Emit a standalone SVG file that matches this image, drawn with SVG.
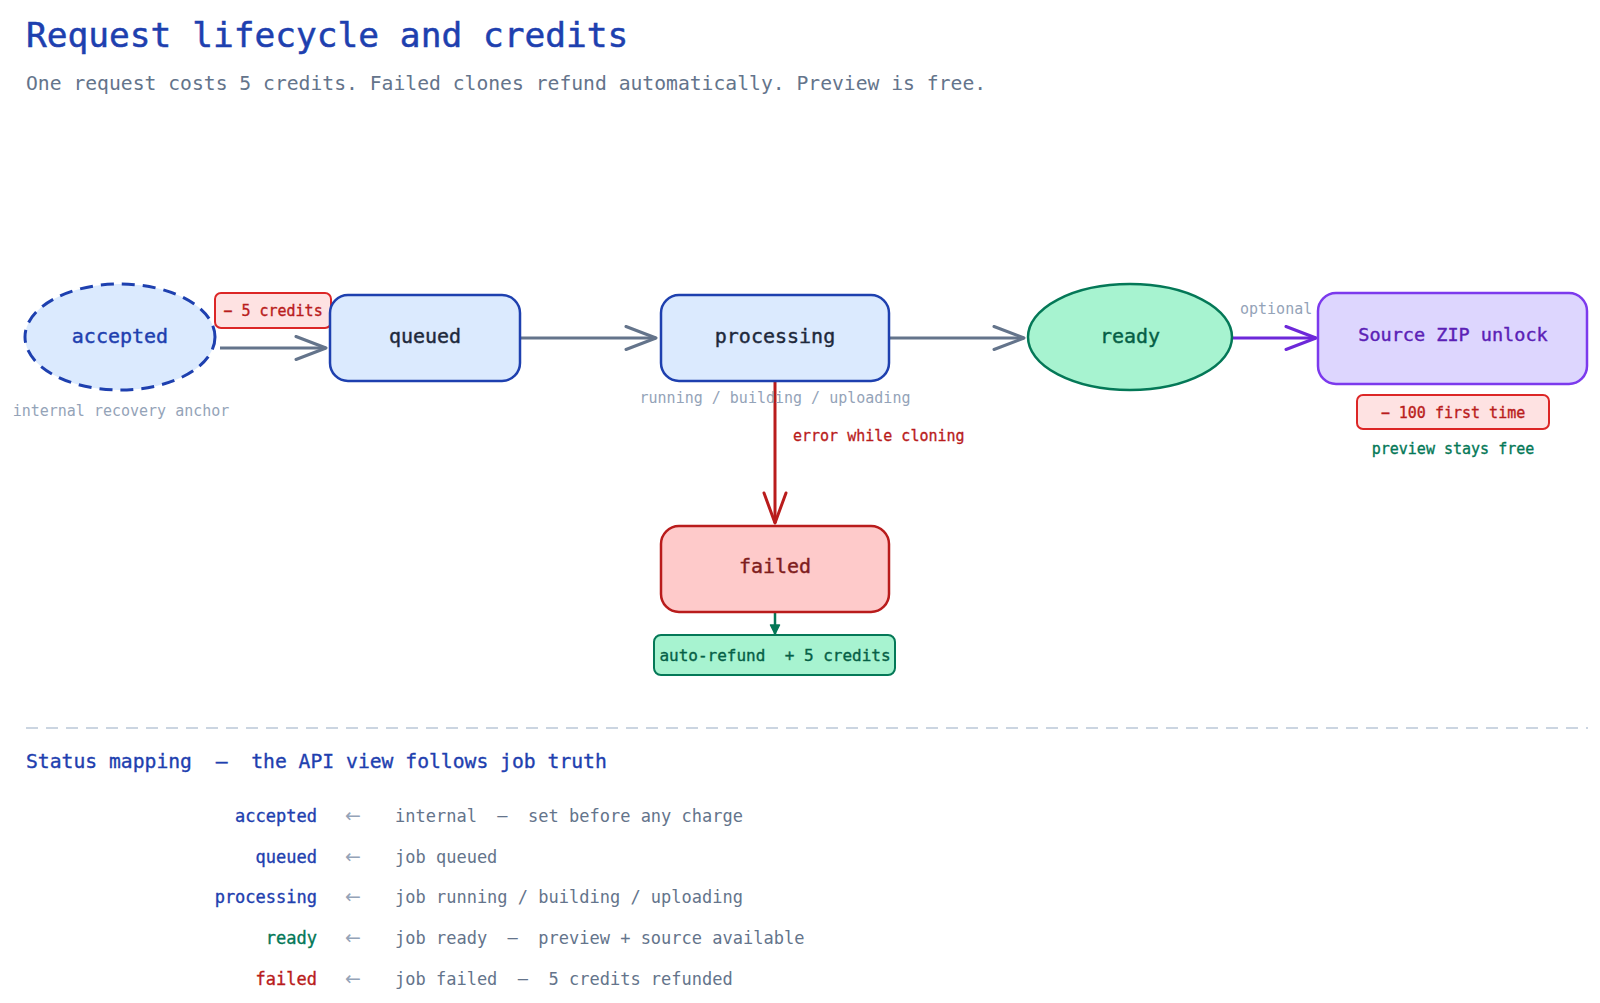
<svg xmlns="http://www.w3.org/2000/svg" width="1600" height="1003" viewBox="0 0 1600 1003">
<style>
text{font-family:"DejaVu Sans Mono","Liberation Mono",monospace;white-space:pre;}
.title{font-size:34.5px;fill:#1e40af;stroke:#1e40af;stroke-width:0.5px;}
.sub{font-size:19.7px;fill:#64748b;}
.lbl{font-size:20px;text-anchor:middle;stroke-width:0.4px;}
.note{font-size:15px;fill:#94a3b8;}
.badge{font-size:15px;text-anchor:middle;stroke-width:0.35px;}
.mapk{font-size:17px;text-anchor:end;stroke-width:0.35px;}
.mapa{font-size:19px;fill:#94a3b8;text-anchor:middle;font-family:"DejaVu Sans",sans-serif;}
.mapv{font-size:17px;fill:#64748b;}
.box{stroke-width:2.5;}
</style>
<defs>
<marker id="arrGray" markerUnits="userSpaceOnUse" markerWidth="36" markerHeight="28" refX="32" refY="13" orient="auto" viewBox="0 0 36 28">
<path d="M2,1.5 L32,13 L2,24.5" fill="none" stroke="#64748b" stroke-width="3" stroke-linecap="round" stroke-linejoin="round"/>
</marker>
<marker id="arrRed" markerUnits="userSpaceOnUse" markerWidth="36" markerHeight="28" refX="32" refY="13" orient="auto" viewBox="0 0 36 28">
<path d="M2,2 L32,13 L2,24" fill="none" stroke="#b91c1c" stroke-width="3" stroke-linecap="round" stroke-linejoin="round"/>
</marker>
<marker id="arrPurple" markerUnits="userSpaceOnUse" markerWidth="36" markerHeight="28" refX="32" refY="13" orient="auto" viewBox="0 0 36 28">
<path d="M2,1.5 L32,13 L2,24.5" fill="none" stroke="#6d28d9" stroke-width="3" stroke-linecap="round" stroke-linejoin="round"/>
</marker>
<marker id="arrGreen" markerUnits="userSpaceOnUse" markerWidth="12" markerHeight="12" refX="10" refY="6" orient="auto" viewBox="0 0 12 12">
<path d="M1,1.5 L10,6 L1,10.5 Z" fill="#047857" stroke="#047857" stroke-width="1.5" stroke-linejoin="round"/>
</marker>
</defs>
<rect width="1600" height="1003" fill="#ffffff"/>
<text class="title" x="26" y="47">Request lifecycle and credits</text>
<text class="sub" x="26" y="90">One request costs 5 credits. Failed clones refund automatically. Preview is free.</text>

<g id="connectors">
<line x1="220" y1="348" x2="326" y2="348" stroke="#64748b" stroke-width="3" marker-end="url(#arrGray)"/>
<line x1="521" y1="338" x2="656" y2="338" stroke="#64748b" stroke-width="3" marker-end="url(#arrGray)"/>
<line x1="889" y1="338" x2="1024" y2="338" stroke="#64748b" stroke-width="3" marker-end="url(#arrGray)"/>
<line x1="1232" y1="338" x2="1316" y2="338" stroke="#6d28d9" stroke-width="3" marker-end="url(#arrPurple)"/>
<line x1="775" y1="382" x2="775" y2="523" stroke="#b91c1c" stroke-width="3" marker-end="url(#arrRed)"/>
<line x1="775" y1="612" x2="775" y2="634" stroke="#047857" stroke-width="2.5" marker-end="url(#arrGreen)"/>
<text class="note" x="1240" y="314">optional</text>
<text x="793" y="441" style="font-size:15px;fill:#b91c1c;stroke:#b91c1c;stroke-width:0.3px">error while cloning</text>
</g>

<g id="node-accepted">
<ellipse cx="120" cy="337" rx="95" ry="53" fill="#dbeafe" stroke="#1e40af" stroke-width="3" stroke-dasharray="13 8"/>
<text class="lbl" x="120" y="343" fill="#1e40af" stroke="#1e40af">accepted</text>
<text class="note" x="121" y="416" text-anchor="middle">internal recovery anchor</text>
</g>
<g id="badge-minus5">
<rect x="215" y="293" width="116" height="35" rx="6" fill="#fee2e2" stroke="#dc2626" stroke-width="2"/>
<text class="badge" x="273" y="316" fill="#b91c1c" stroke="#b91c1c">− 5 credits</text>
</g>

<g id="node-queued">
<rect class="box" x="330" y="295" width="190" height="86" rx="18" fill="#dbeafe" stroke="#1e40af"/>
<text class="lbl" x="425" y="343" fill="#1e293b" stroke="#1e293b">queued</text>
</g>

<g id="node-processing">
<rect class="box" x="661" y="295" width="228" height="86" rx="18" fill="#dbeafe" stroke="#1e40af"/>
<text class="lbl" x="775" y="343" fill="#1e293b" stroke="#1e293b">processing</text>
<text class="note" x="775" y="403" text-anchor="middle">running / building / uploading</text>
</g>

<g id="node-ready">
<ellipse cx="1130" cy="337" rx="102" ry="53" fill="#a7f3d0" stroke="#047857" stroke-width="2.5"/>
<text class="lbl" x="1130" y="343" fill="#065f46" stroke="#065f46">ready</text>
</g>

<g id="node-zip">
<rect class="box" x="1318" y="293" width="269" height="91" rx="18" fill="#ddd6fe" stroke="#7c3aed"/>
<text class="lbl" x="1453" y="341" fill="#5b21b6" stroke="#5b21b6" style="font-size:18.5px">Source ZIP unlock</text>
<rect x="1357" y="395" width="192" height="34" rx="6" fill="#fee2e2" stroke="#dc2626" stroke-width="2"/>
<text class="badge" x="1453" y="418" fill="#b91c1c" stroke="#b91c1c">− 100 first time</text>
<text class="badge" x="1453" y="454" fill="#047857" stroke="#047857">preview stays free</text>
</g>

<g id="node-failed">
<rect class="box" x="661" y="526" width="228" height="86" rx="18" fill="#fecaca" stroke="#b91c1c"/>
<text class="lbl" x="775" y="573" fill="#7f1d1d" stroke="#7f1d1d">failed</text>
</g>

<g id="badge-refund">
<rect x="654" y="635" width="241" height="40" rx="7" fill="#a7f3d0" stroke="#047857" stroke-width="2"/>
<text class="badge" x="775" y="661" fill="#065f46" stroke="#065f46" style="font-size:16px">auto-refund  + 5 credits</text>
</g>

<line x1="26" y1="728" x2="1588" y2="728" stroke="#cbd5e1" stroke-width="2" stroke-dasharray="12 8"/>

<g id="mapping">
<text x="26" y="768" style="font-size:19.7px;fill:#1e40af;stroke:#1e40af;stroke-width:0.35px">Status mapping  –  the API view follows job truth</text>
<text class="mapk" x="317" y="822" fill="#1e40af" stroke="#1e40af">accepted</text>
<text class="mapa" x="353" y="822">←</text>
<text class="mapv" x="395" y="822">internal  –  set before any charge</text>
<text class="mapk" x="317" y="863" fill="#1e40af" stroke="#1e40af">queued</text>
<text class="mapa" x="353" y="863">←</text>
<text class="mapv" x="395" y="863">job queued</text>
<text class="mapk" x="317" y="903" fill="#1e40af" stroke="#1e40af">processing</text>
<text class="mapa" x="353" y="903">←</text>
<text class="mapv" x="395" y="903">job running / building / uploading</text>
<text class="mapk" x="317" y="944" fill="#047857" stroke="#047857">ready</text>
<text class="mapa" x="353" y="944">←</text>
<text class="mapv" x="395" y="944">job ready  –  preview + source available</text>
<text class="mapk" x="317" y="985" fill="#b91c1c" stroke="#b91c1c">failed</text>
<text class="mapa" x="353" y="985">←</text>
<text class="mapv" x="395" y="985">job failed  –  5 credits refunded</text>
</g>
</svg>
